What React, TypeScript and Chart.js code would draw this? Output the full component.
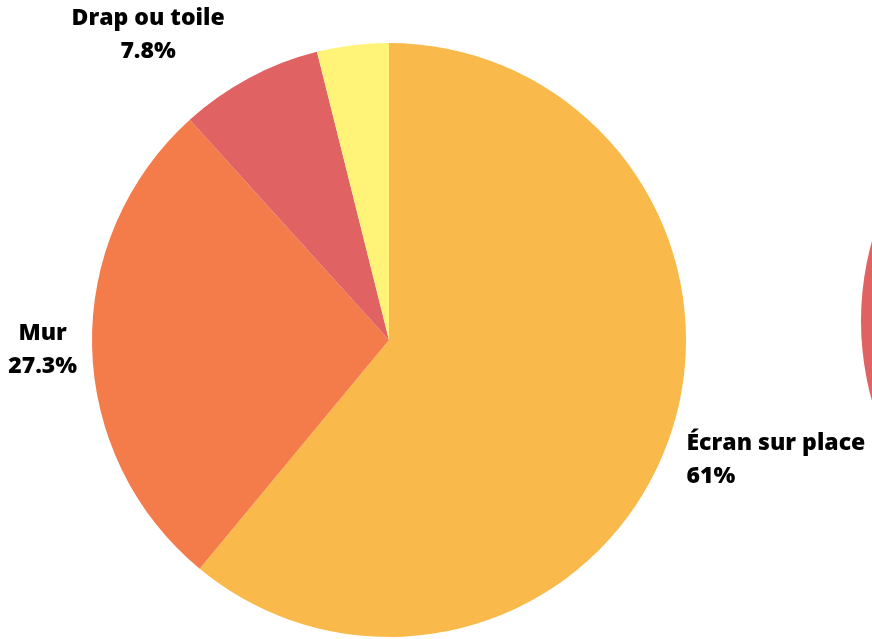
import React, { useEffect, useRef } from "react";
import { Chart, registerables } from "chart.js";

Chart.register(...registerables);

const categories = ["Écran sur place", "Mur", "Drap ou toile", "Autre"];
const values = [61, 27.3, 7.8, 3.9];
const percentLabels = ["61%", "27.3%", "7.8%", ""];
const colors = ["#F9BA4B", "#F47B4A", "#E06262", "#FFF378"];

// neighbouring chart, only its left edge is visible
const secondCategories = ["Autre graphique"];
const secondValues = [100];
const secondColors = ["#E06262"];

// label placement tweaks (relative to a radial anchor just outside the pie)
const labelOffsets = [
  { dx: 3, dy: 12 },
  { dx: 1, dy: 2 },
  { dx: -17, dy: -30 },
  { dx: 0, dy: 0 },
];

const FONT = "800 23px 'Open Sans', 'Noto Sans', sans-serif";
const LINE_H = 33;
const CAP = 16;

const labelPlugin = {
  id: "outLabels",
  afterDraw(chart: any) {
    const ctx = chart.ctx;
    const meta = chart.getDatasetMeta(0);
    ctx.save();
    ctx.font = FONT;
    ctx.fillStyle = "#000";
    ctx.textBaseline = "alphabetic";
    meta.data.forEach((arc: any, i: number) => {
      const pct = percentLabels[i];
      if (!pct) return;
      const { x, y, startAngle, endAngle, outerRadius } = arc.getProps(
        ["x", "y", "startAngle", "endAngle", "outerRadius"],
        true
      );
      const mid = (startAngle + endAngle) / 2;
      const r = outerRadius + 16;
      const ax = x + Math.cos(mid) * r + labelOffsets[i].dx;
      const ay = y + Math.sin(mid) * r + labelOffsets[i].dy;
      const lines = [categories[i], pct];
      const b1 = ay - (LINE_H - CAP) / 2;
      if (Math.cos(mid) >= 0) {
        ctx.textAlign = "left";
        lines.forEach((t, k) => ctx.fillText(t, ax, b1 + k * LINE_H));
      } else {
        const w = Math.max(...lines.map((t) => ctx.measureText(t).width));
        const cx = ax - w / 2;
        ctx.textAlign = "center";
        lines.forEach((t, k) => ctx.fillText(t, cx, b1 + k * LINE_H));
      }
    });
    ctx.restore();
  },
};

export default function App() {
  const mainRef = useRef<HTMLCanvasElement>(null);
  const secondRef = useRef<HTMLCanvasElement>(null);

  useEffect(() => {
    const c1 = new Chart(mainRef.current!, {
      type: "pie",
      data: {
        labels: categories,
        datasets: [
          {
            data: values,
            backgroundColor: colors,
            borderWidth: 0,
          },
        ],
      },
      options: {
        responsive: false,
        animation: false,
        layout: { padding: { top: 43, bottom: 2, left: 92, right: 186 } },
        plugins: { legend: { display: false }, tooltip: { enabled: false } },
      },
      plugins: [labelPlugin],
    });
    const c2 = new Chart(secondRef.current!, {
      type: "pie",
      data: {
        labels: secondCategories,
        datasets: [
          { data: secondValues, backgroundColor: secondColors, borderWidth: 0 },
        ],
      },
      options: {
        responsive: false,
        animation: false,
        layout: { padding: 0 },
        plugins: { legend: { display: false }, tooltip: { enabled: false } },
      },
    });
    return () => {
      c1.destroy();
      c2.destroy();
    };
  }, []);

  return (
    <div
      style={{
        position: "fixed",
        left: 0,
        top: 0,
        width: 872,
        height: 639,
        overflow: "hidden",
        background: "#fff",
      }}
    >
      <canvas
        ref={mainRef}
        width={872}
        height={639}
        style={{ position: "absolute", left: 0, top: 0 }}
      />
      <canvas
        ref={secondRef}
        width={594}
        height={594}
        style={{ position: "absolute", left: 861, top: 24 }}
      />
    </div>
  );
}
